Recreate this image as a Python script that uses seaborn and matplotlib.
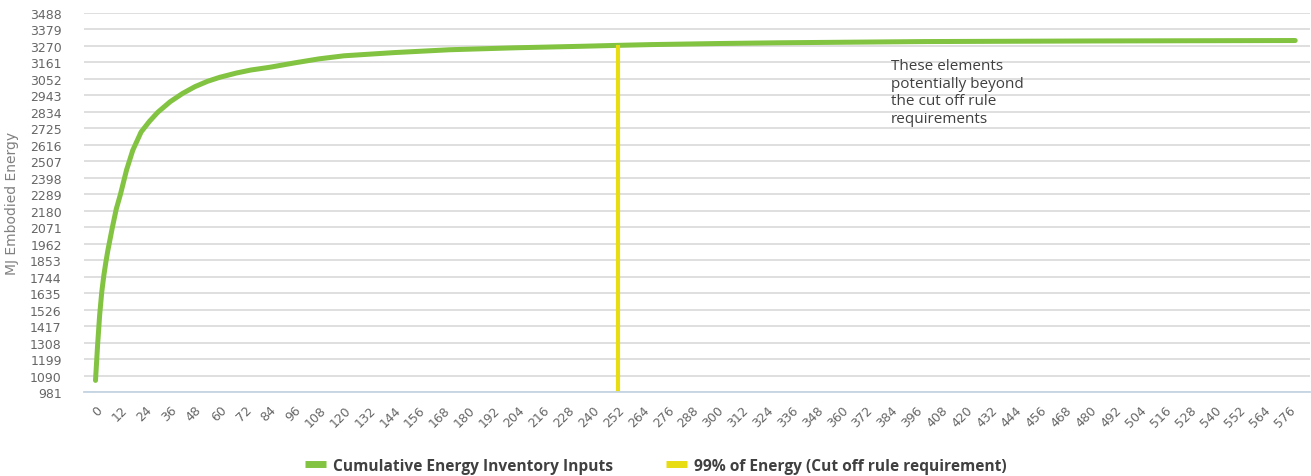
import numpy as np
import pandas as pd
import matplotlib
matplotlib.use('Agg')
from matplotlib import pyplot as plt
import seaborn as sb

# Dados (índice do item vs energia acumulada)
items = [0, 1, 2, 3, 4, 5, 6, 8, 10, 12, 15, 18, 22, 26, 30, 36, 42, 48, 54,
         60, 68, 75, 84, 96, 108, 120, 144, 171, 203, 235, 252, 268, 300, 330,
         400, 480, 579]
cum_energy = [1058, 1290, 1490, 1640, 1750, 1840, 1920, 2060, 2190, 2286, 2450,
              2580, 2700, 2770, 2830, 2900, 2955, 3000, 3035, 3062, 3090, 3110,
              3128, 3157, 3184, 3204, 3225, 3244, 3257, 3267, 3273, 3278, 3285,
              3290, 3298, 3302, 3305]

cutoff_x = [252, 252]
cutoff_y = [981, 3273]

y_ticks = [981 + 109 * k for k in range(24)]
x_ticks = list(range(0, 577, 12))

series_names = ['Cumulative Energy Inventory Inputs',
                '99% of Energy (Cut off rule requirement)']
note = 'These elements\npotentially beyond\nthe cut off rule\nrequirements'

green = '#82c341'
yellow = '#e8dc12'

sb.set_style('white')
plt.rcParams['font.family'] = ['DejaVu Sans']

df = pd.DataFrame({'item': items, 'energy': cum_energy})
df_cut = pd.DataFrame({'item': cutoff_x, 'energy': cutoff_y})

fig = plt.figure(figsize=(13.11, 4.77), dpi=100)
ax = fig.add_axes([0.064, 0.176, 0.935, 0.795])

sb.lineplot(data=df, x='item', y='energy', color=green, lw=3.6, ax=ax,
            label=series_names[0], solid_capstyle='round',
            solid_joinstyle='round')
sb.lineplot(data=df_cut, x='item', y='energy', color=yellow, lw=3.0, ax=ax,
            label=series_names[1], solid_capstyle='butt',
            estimator=None, sort=False)

ax.set_xlim(-5.6, 586)
ax.set_ylim(981, 3488)
ax.set_yticks(y_ticks)
ax.set_xticks(x_ticks)
ax.set_xticklabels([str(t) for t in x_ticks], rotation=45, ha='right',
                   rotation_mode='anchor')
ax.grid(axis='y', color='#dcdcdc', lw=1.3)
ax.set_axisbelow(True)
for s in ['top', 'right', 'left']:
    ax.spines[s].set_visible(False)
ax.spines['bottom'].set_color('#c5d3e3')
ax.spines['bottom'].set_linewidth(1.3)
ax.tick_params(axis='y', length=0, pad=16, labelsize=9, labelcolor='#666666')
ax.tick_params(axis='x', length=5, width=1, color='#c5d3e3', pad=3,
               labelsize=9, labelcolor='#666666')

ax.set_xlabel('')
ax.set_ylabel('MJ Embodied Energy', fontsize=10, color='#808080')
ax.yaxis.set_label_coords(-0.053, 0.5)

ax.text(384, 3190, note, fontsize=11, color='#404040', va='top', ha='left',
        linespacing=1.25, family=['Open Sans', 'DejaVu Sans'])

handles, labels = ax.get_legend_handles_labels()
ax.get_legend().remove()
leg = fig.legend(handles, labels, loc='center', bbox_to_anchor=(0.5, 0.022),
                 ncol=2, frameon=False, handlelength=1.4, columnspacing=3.4,
                 handletextpad=0.4, prop={'family': 'Open Sans', 'weight': 'bold',
                                          'size': 11.2})
for h in leg.legend_handles:
    h.set_linewidth(5)
    h.set_solid_capstyle('butt')
for t in leg.get_texts():
    t.set_color('#404040')

plt.savefig('out.png', dpi=100)
plt.close()
